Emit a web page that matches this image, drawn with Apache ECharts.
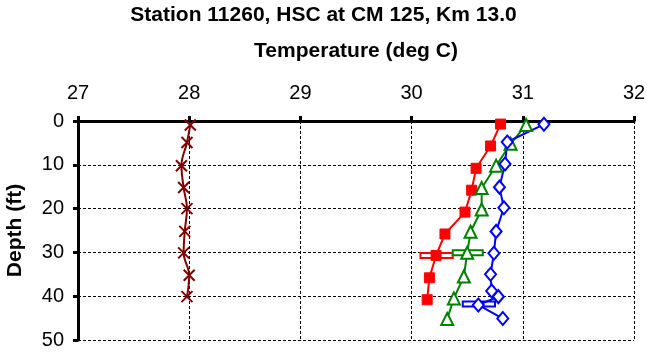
<!DOCTYPE html>
<html>
<head>
<meta charset="utf-8">
<script src="https://cdn.jsdelivr.net/npm/echarts@6/dist/echarts.min.js"></script>
<style>html,body{margin:0;padding:0;background:#fff;}#c{width:647px;height:358px;}</style>
</head>
<body>
<div id="c"></div>
<script>
// ---- data (temperature deg C, depth ft) ----
const redTemp   = [30.80, 30.71, 30.58, 30.54, 30.48, 30.30, 30.22, 30.16, 30.14];
const redDepth  = [0.7, 5.7, 10.8, 15.8, 20.8, 25.8, 30.7, 35.8, 40.8];
const greenTemp = [31.03, 30.89, 30.76, 30.63, 30.63, 30.53, 30.50, 30.47, 30.38, 30.32];
const greenDepth= [0.9, 5.2, 10.2, 15.3, 20.2, 25.3, 30.1, 35.5, 40.5, 45.2];
const blueTemp  = [31.19, 30.86, 30.84, 30.79, 30.83, 30.76, 30.74, 30.71, 30.72, 30.78, 30.60, 30.82];
const blueDepth = [0.75, 4.8, 9.8, 15.1, 19.8, 25.2, 30.2, 35.0, 38.8, 40.1, 42.0, 45.1];
const brownTemp = [28.01, 27.98, 27.93, 27.95, 27.98, 27.96, 27.95, 28.00, 27.98];
const brownDepth= [0.9, 4.9, 10.2, 15.2, 20.0, 25.2, 30.1, 35.2, 40.1];
// horizontal range bars: [tempLow, tempHigh, depth]
const redBar   = [30.08, 30.37, 30.7];
const greenBar = [30.37, 30.64, 30.1];
const blueBar  = [30.46, 30.75, 41.8];
const xTicks = [27, 28, 29, 30, 31, 32];
const yTicks = [0, 10, 20, 30, 40, 50];

const FONT = 'Liberation Sans, Arial, Helvetica, sans-serif';
const zip = (t, d) => t.map((v, i) => [v, d[i]]);

function barSeries(bar, color) {
  return {
    type: 'custom',
    data: [bar],
    z: 1,
    renderItem: function (params, api) {
      const a = api.coord([api.value(0), api.value(2)]);
      const b = api.coord([api.value(1), api.value(2)]);
      return {
        type: 'rect',
        shape: { x: a[0], y: a[1] - 2.5, width: b[0] - a[0], height: 5 },
        style: { fill: '#fff', stroke: color, lineWidth: 2 }
      };
    }
  };
}

const chart = echarts.init(document.getElementById('c'), null, { renderer: 'canvas' });
chart.setOption({
  backgroundColor: '#fff',
  animation: false,
  title: {
    text: 'Station 11260, HSC at CM 125, Km 13.0',
    left: 'center', top: 5, padding: 0,
    textStyle: { fontFamily: FONT, fontSize: 21, fontWeight: 'bold', color: '#000' }
  },
  grid: { left: 78, right: 13, top: 121, bottom: 18, outerBoundsMode: 'none', containLabel: false },
  xAxis: {
    type: 'value', position: 'top', min: xTicks[0], max: xTicks[xTicks.length - 1], interval: 1,
    name: 'Temperature (deg C)', nameLocation: 'middle', nameGap: 59,
    nameTextStyle: { fontFamily: FONT, fontSize: 21, fontWeight: 'bold', color: '#000' },
    axisLine: { show: true, lineStyle: { color: '#000', width: 3 } },
    axisTick: { show: true, inside: false, length: 5, lineStyle: { color: '#000', width: 3 } },
    axisLabel: { fontFamily: FONT, fontSize: 20, color: '#000', margin: 18 },
    splitLine: { show: true, lineStyle: { color: '#000', width: 1, type: [3, 2] } }
  },
  yAxis: {
    type: 'value', inverse: true, min: yTicks[0], max: yTicks[yTicks.length - 1], interval: 10,
    name: 'Depth (ft)', nameLocation: 'middle', nameGap: 52, nameRotate: 90,
    nameTextStyle: { fontFamily: FONT, fontSize: 21, fontWeight: 'bold', color: '#000' },
    axisLine: { show: true, lineStyle: { color: '#000', width: 3 } },
    axisTick: { show: true, inside: false, length: 5, lineStyle: { color: '#000', width: 3 } },
    axisLabel: { fontFamily: FONT, fontSize: 20, color: '#000', margin: 14 },
    splitLine: { show: true, lineStyle: { color: '#000', width: 1, type: [3, 2] } }
  },
  series: [
    barSeries(redBar, '#ff0000'),
    barSeries(greenBar, '#008000'),
    barSeries(blueBar, '#0000ff'),
    {
      type: 'line', data: zip(brownTemp, brownDepth), smooth: 0.4, z: 2,
      symbol: 'path://M0,0L10,10M10,0L0,10', symbolSize: 11, showAllSymbol: true,
      lineStyle: { color: '#800000', width: 2 },
      itemStyle: { color: 'none', borderColor: '#800000', borderWidth: 2 }
    },
    {
      type: 'line', data: zip(redTemp, redDepth), z: 2,
      symbol: 'rect', symbolSize: 10, showAllSymbol: true,
      lineStyle: { color: '#ff0000', width: 2 },
      itemStyle: { color: '#ff0000', borderColor: '#ff0000', borderWidth: 1 }
    },
    {
      type: 'line', data: zip(greenTemp, greenDepth), z: 2,
      symbol: 'triangle', symbolSize: 12, showAllSymbol: true,
      lineStyle: { color: '#008000', width: 2 },
      itemStyle: { color: '#fff', borderColor: '#008000', borderWidth: 2 }
    },
    {
      type: 'line', data: zip(blueTemp, blueDepth), z: 2,
      symbol: 'diamond', symbolSize: [11, 13], showAllSymbol: true,
      lineStyle: { color: '#0000ff', width: 2 },
      itemStyle: { color: '#fff', borderColor: '#0000ff', borderWidth: 2 }
    }
  ]
});
</script>
</body>
</html>
